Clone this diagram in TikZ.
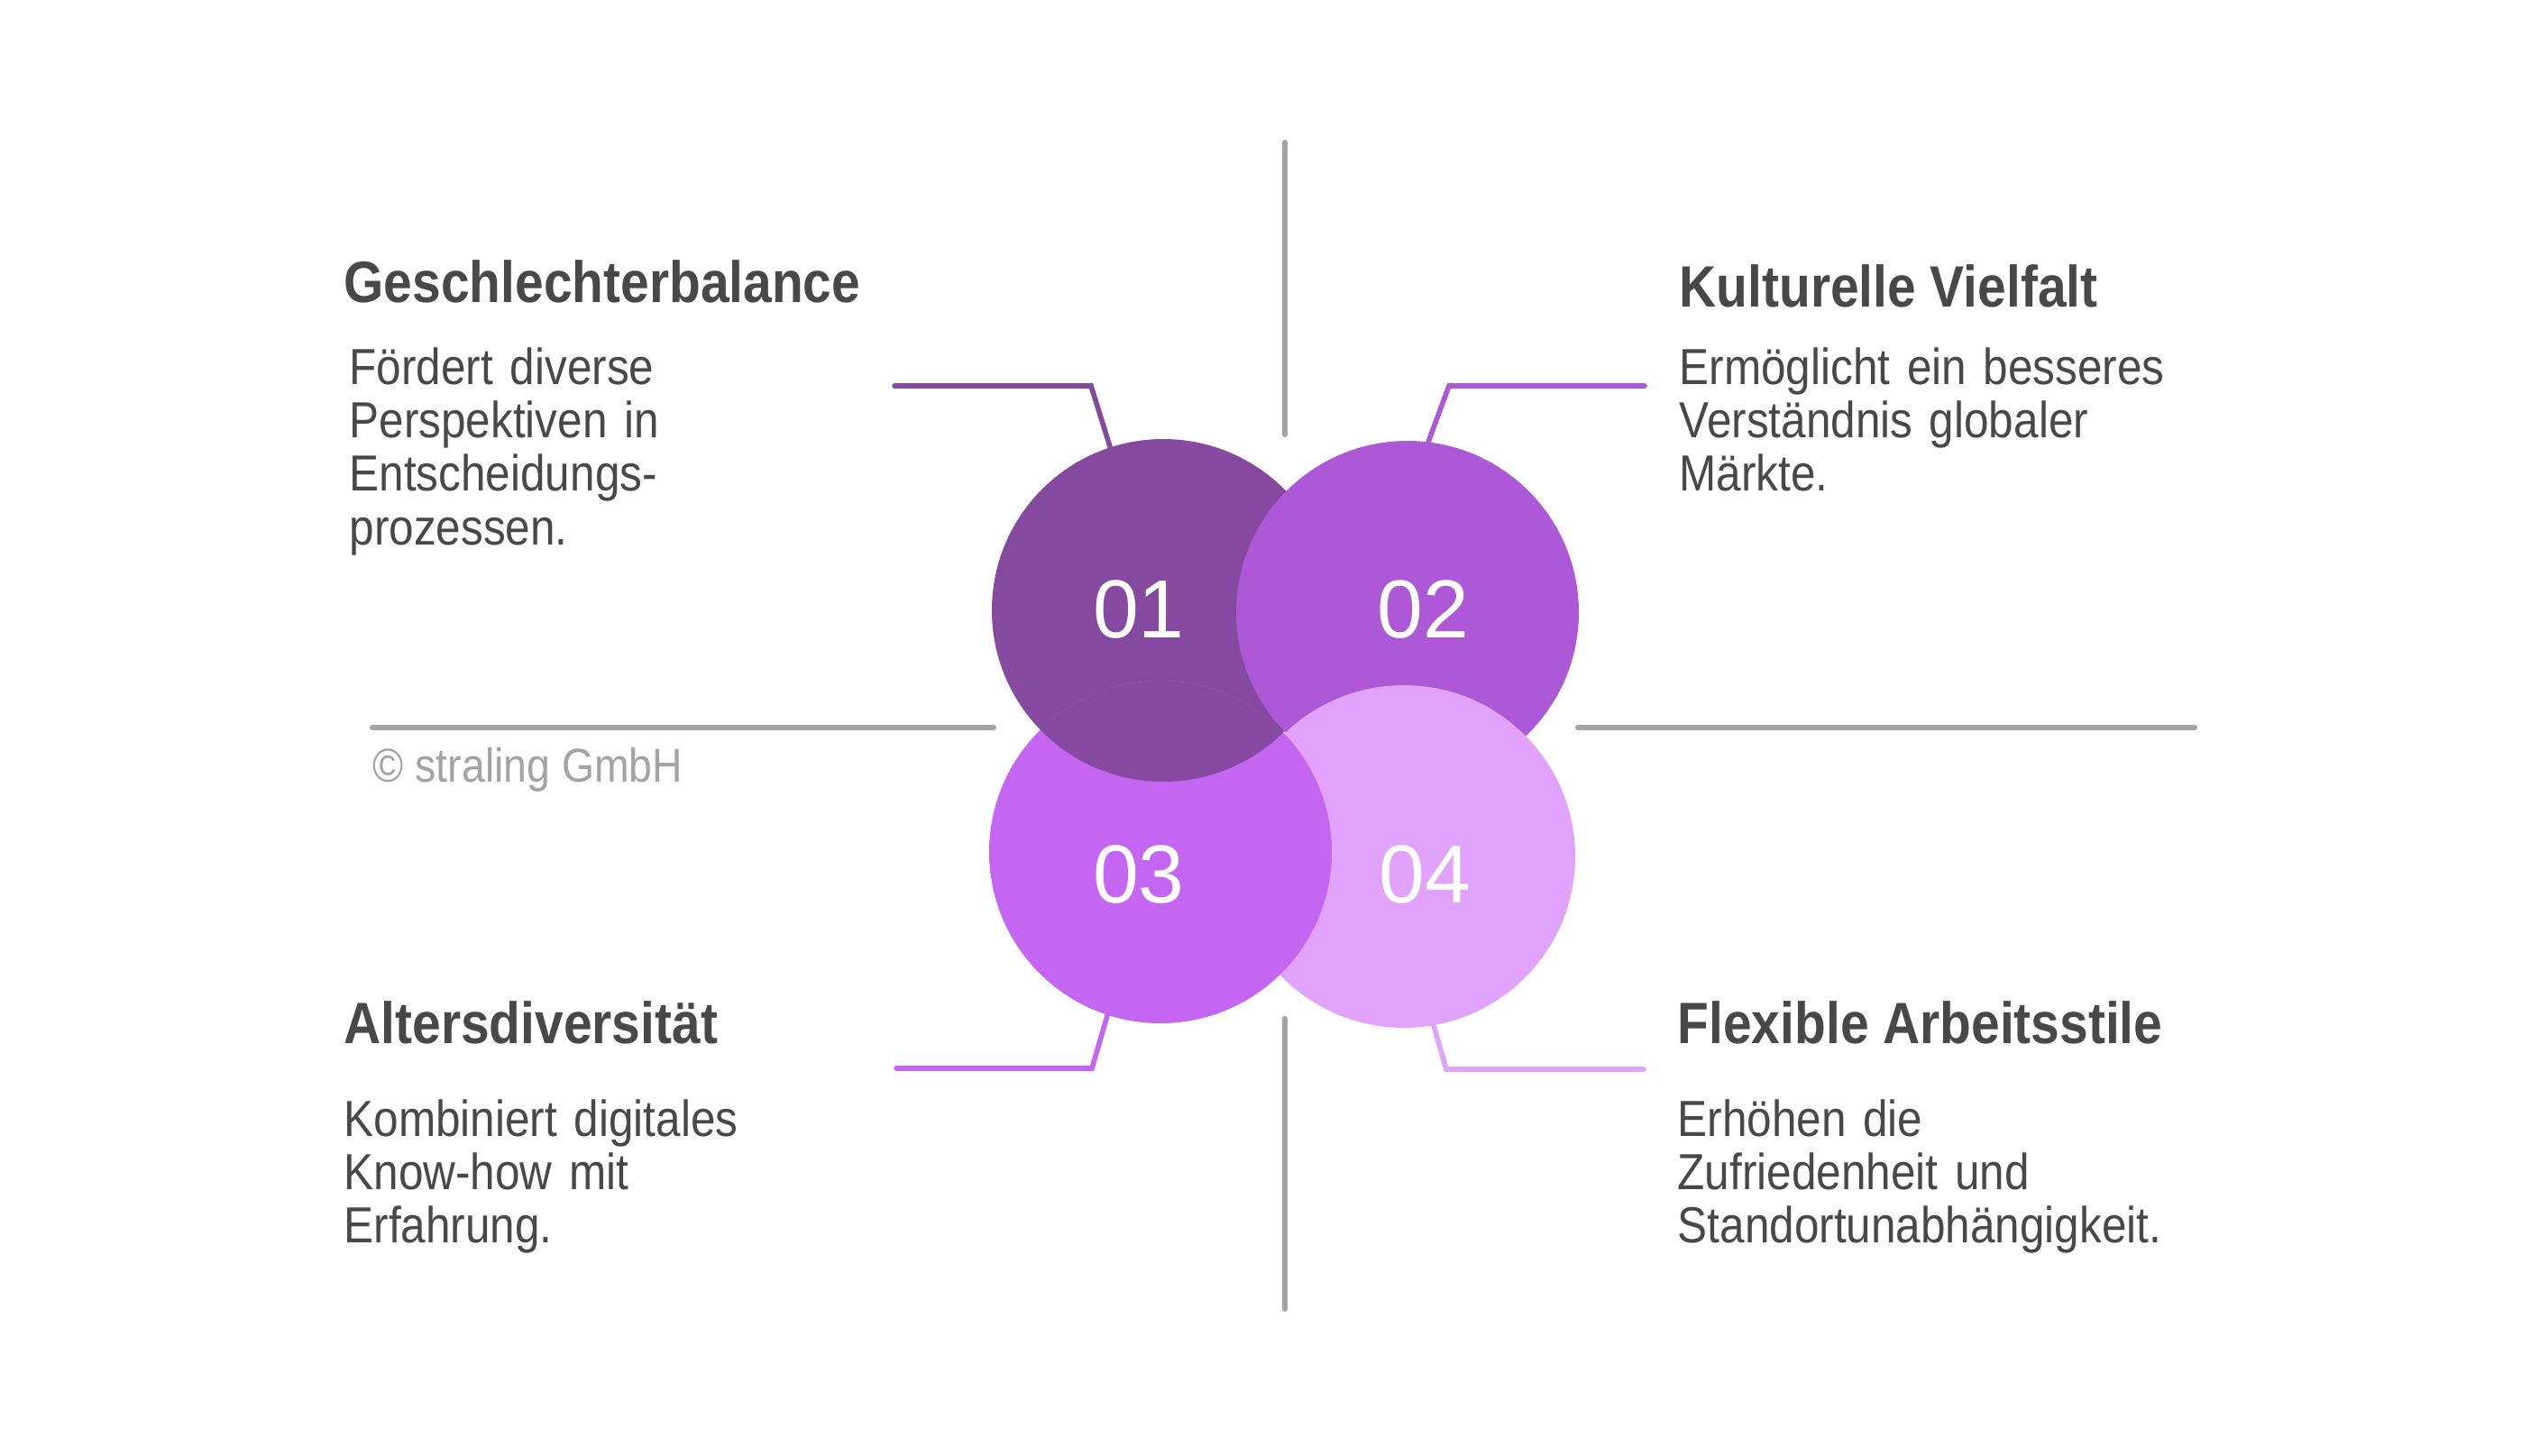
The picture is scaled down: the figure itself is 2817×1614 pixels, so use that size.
\documentclass[tikz,border=0pt]{standalone}
\usepackage{fontspec}
\setmainfont{Liberation Sans}[FakeStretch=0.88]
\newfontfamily\numfont{Liberation Sans}

\definecolor{ink}{HTML}{484848}
\definecolor{rulegray}{HTML}{A3A3A3}
\definecolor{pone}{HTML}{85499F}
\definecolor{ptwo}{HTML}{AD58D6}
\definecolor{pthree}{HTML}{C566F3}
\definecolor{pfour}{HTML}{E0A2FB}

\begin{document}
\begin{tikzpicture}[x=0.1mm,y=-0.1mm,
    disc/.style={circle,minimum size=38mm,inner sep=0pt},
    num/.style={font=\numfont\fontsize{26}{30}\selectfont,text=white,inner sep=0pt},
    heading/.style={font=\bfseries\fontsize{18.4}{22}\selectfont,text=ink,
                    anchor=base west,inner sep=0pt},
    blurb/.style={font=\fontsize{16}{16.9}\selectfont,text=ink,anchor=base west,
                  inner sep=0pt,text width=70mm,align=left},
    axis/.style={rulegray,line width=1.7pt,line cap=round},
    lead/.style={line width=1.6pt,line cap=round}]
  \fill[white] (0,0) rectangle (2817,1614);

  % cross behind the discs
  \draw[axis] (1425,158)  -- (1425,482);
  \draw[axis] (1425,1130) -- (1425,1452);
  \draw[axis] (413,807)   -- (1102,807);
  \draw[axis] (1750,807)  -- (2434,807);

  % discs, each one lies over the next
  \node[disc,fill=pone]   (c1) at (1290,677) {};
  \node[disc,fill=ptwo]   (c2) at (1561,679) {};
  \node[disc,fill=pfour]  (c4) at (1557,950) {};
  \node[disc,fill=pthree] (c3) at (1287,945) {};
  \begin{scope}
    \clip (c3.center) circle (190);
    \fill[pone] (c1.center) circle (190);
  \end{scope}

  \node[num] (n1) at (1263,676) {01};
  \node[num] (n2) at (1578,676) {02};
  \node[num] (n3) at (1263,970) {03};
  \node[num] (n4) at (1580,970) {04};

  % leader lines
  \coordinate (l1) at (992,428);  \coordinate (k1) at (1210,428);
  \coordinate (l2) at (1824,428); \coordinate (k2) at (1607,428);
  \coordinate (l3) at (994,1185); \coordinate (k3) at (1211,1185);
  \coordinate (l4) at (1823,1186);\coordinate (k4) at (1604,1186);
  \draw[lead,pone]   (l1) -- (k1) -- (c1.108);
  \draw[lead,ptwo]   (l2) -- (k2) -- (c2.83);
  \draw[lead,pthree] (l3) -- (k3) -- (c3.252);
  \draw[lead,pfour]  (l4) -- (k4) -- (c4.280);

  % texts
  \node[heading] (t1) at (381,335) {Geschlechterbalance};
  \node[blurb]   (b1) at (387,426) {Fördert diverse\\Perspektiven in\\Entscheidungs-\\prozessen.};
  \node[heading] (t2) at (1862,340) {Kulturelle Vielfalt};
  \node[blurb]   (b2) at (1862,426) {Ermöglicht ein besseres\\Verständnis globaler\\Märkte.};
  \node[heading] (t3) at (381,1157) {Altersdiversität};
  \node[blurb]   (b3) at (381,1260) {Kombiniert digitales\\Know-how mit\\Erfahrung.};
  \node[heading] (t4) at (1860,1157) {Flexible Arbeitsstile};
  \node[blurb]   (b4) at (1860,1260) {Erhöhen die\\Zufriedenheit und\\Standortunabhängigkeit.};
  \node[font=\fontsize{15}{18}\selectfont,text=rulegray,anchor=base west,inner sep=0pt]
       (copy) at (413,867) {© straling GmbH};
\end{tikzpicture}
\end{document}
